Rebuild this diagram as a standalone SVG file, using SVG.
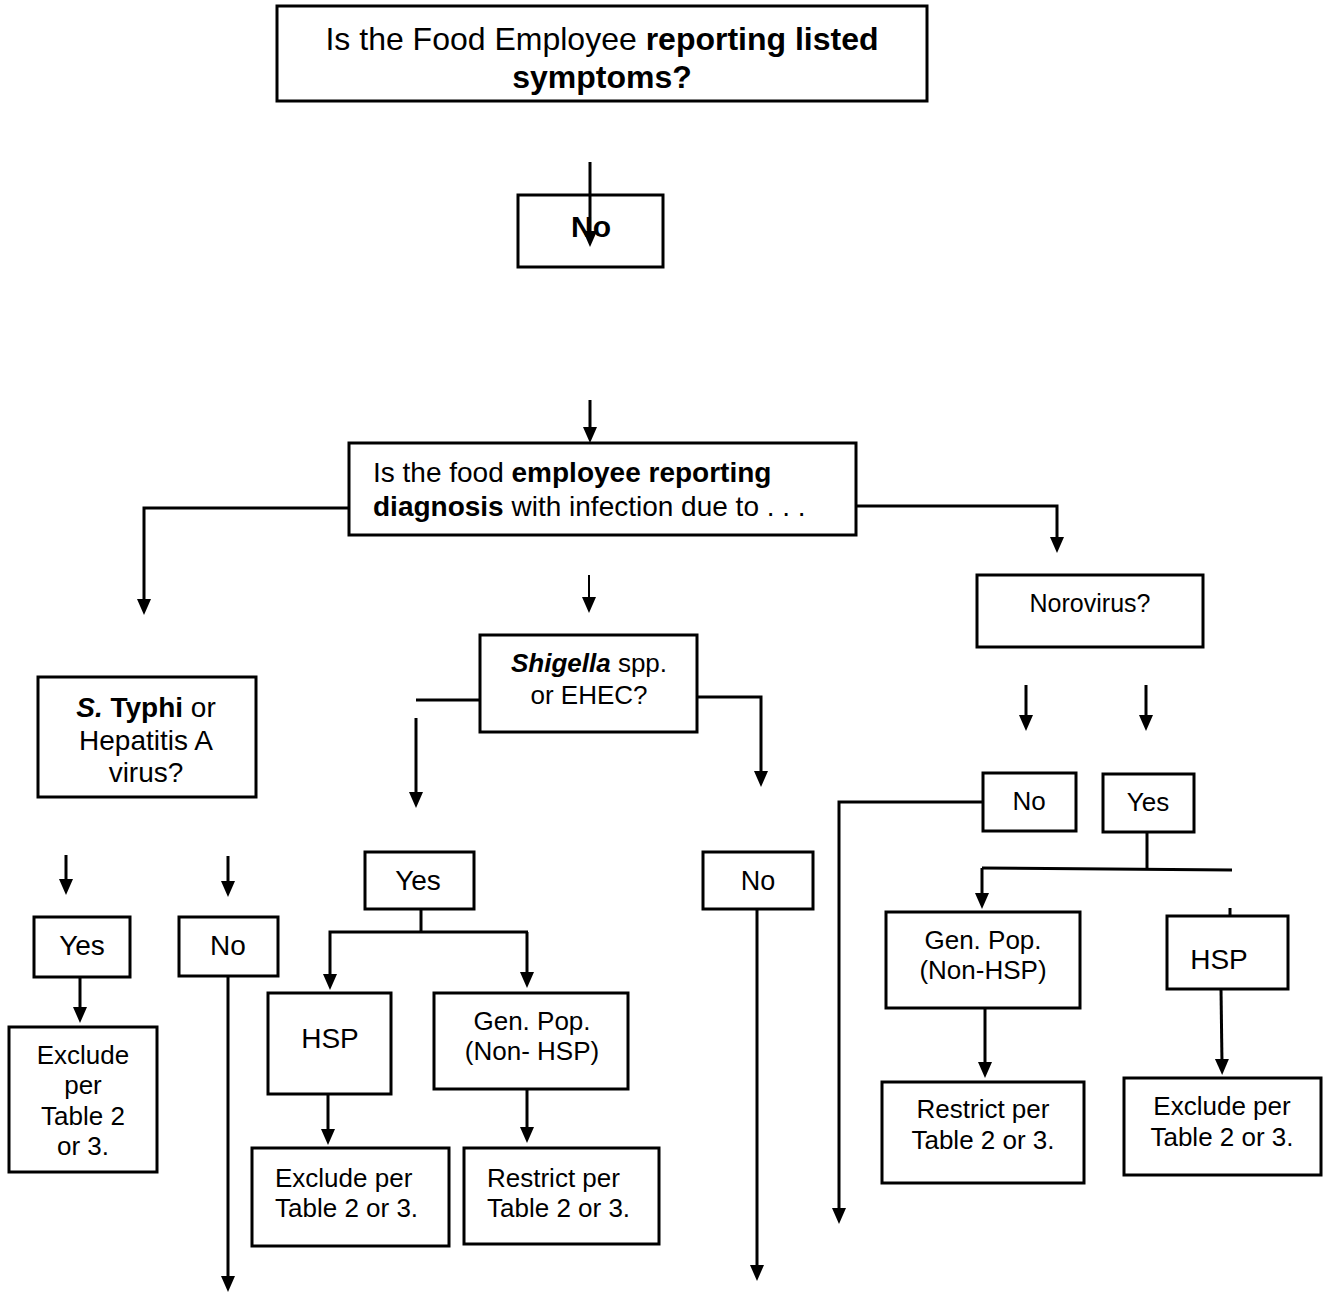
<svg xmlns="http://www.w3.org/2000/svg" width="1325" height="1295" viewBox="0 0 1325 1295">
<style>
.box{fill:#fff;stroke:#000;stroke-width:3}
.t{font-family:"Liberation Sans",Arial,sans-serif;fill:#000}
.c{text-anchor:middle}
.b{font-weight:bold}
.i{font-style:italic}
.ln{fill:none;stroke:#000;stroke-width:3}
.ar{fill:none;stroke:#000;stroke-width:3;marker-end:url(#ah)}
.ar2{fill:none;stroke:#000;stroke-width:2;marker-end:url(#ah)}
</style>
<defs>
<marker id="ah" markerUnits="userSpaceOnUse" markerWidth="16" markerHeight="16" viewBox="0 0 16 16" refX="4" refY="8" orient="auto">
<path d="M0,1 L16,8 L0,15 z" fill="#000"/>
</marker>
</defs>
<rect width="1325" height="1295" fill="#fff"/>

<g id="n-symptoms">
<rect class="box" x="277" y="6" width="650" height="95"/>
<text class="t c" x="602" y="50" font-size="32">Is the Food Employee <tspan class="b">reporting listed</tspan></text>
<text class="t c b" x="602" y="88" font-size="32">symptoms?</text>
</g>
<g id="n-no-top">
<rect class="box" x="518" y="195" width="145" height="72"/>
<text class="t c b" x="591" y="237" font-size="30">No</text>
</g>
<g id="n-diagnosis">
<rect class="box" x="349" y="443" width="507" height="92"/>
<text class="t" x="373" y="482" font-size="28">Is the food <tspan class="b">employee reporting</tspan></text>
<text class="t" x="373" y="516" font-size="28"><tspan class="b">diagnosis</tspan> with infection due to . . .</text>
</g>
<g id="n-typhi">
<rect class="box" x="38" y="677" width="218" height="120"/>
<text class="t c" x="146" y="717" font-size="28"><tspan class="b i">S.</tspan><tspan class="b"> Typhi</tspan> or</text>
<text class="t c" x="146" y="750" font-size="28">Hepatitis A</text>
<text class="t c" x="146" y="782" font-size="28">virus?</text>
</g>
<g id="n-shigella">
<rect class="box" x="480" y="635" width="217" height="97"/>
<text class="t c" x="589" y="672" font-size="26"><tspan class="b i">Shigella</tspan> spp.</text>
<text class="t c" x="589" y="704" font-size="26">or EHEC?</text>
</g>
<g id="n-norovirus">
<rect class="box" x="977" y="575" width="226" height="72"/>
<text class="t c" x="1090" y="612" font-size="25">Norovirus?</text>
</g>
<g id="n-typhi-yes">
<rect class="box" x="34" y="917" width="96" height="60"/>
<text class="t c" x="82" y="955" font-size="28">Yes</text>
</g>
<g id="n-typhi-no">
<rect class="box" x="179" y="917" width="99" height="59"/>
<text class="t c" x="228" y="955" font-size="28">No</text>
</g>
<g id="n-typhi-exclude">
<rect class="box" x="9" y="1027" width="148" height="145"/>
<text class="t c" x="83" y="1064" font-size="26">Exclude</text>
<text class="t c" x="83" y="1094" font-size="26">per</text>
<text class="t c" x="83" y="1125" font-size="26">Table 2</text>
<text class="t c" x="83" y="1155" font-size="26">or 3.</text>
</g>
<g id="n-shig-yes">
<rect class="box" x="365" y="852" width="109" height="57"/>
<text class="t c" x="418" y="890" font-size="28">Yes</text>
</g>
<g id="n-shig-no">
<rect class="box" x="703" y="852" width="110" height="57"/>
<text class="t c" x="758" y="890" font-size="27">No</text>
</g>
<g id="n-shig-hsp">
<rect class="box" x="268" y="993" width="123" height="101"/>
<text class="t c" x="330" y="1048" font-size="28">HSP</text>
</g>
<g id="n-shig-genpop">
<rect class="box" x="434" y="993" width="194" height="96"/>
<text class="t c" x="532" y="1030" font-size="26">Gen. Pop.</text>
<text class="t c" x="532" y="1060" font-size="26">(Non- HSP)</text>
</g>
<g id="n-shig-exclude">
<rect class="box" x="252" y="1148" width="197" height="98"/>
<text class="t" x="275" y="1187" font-size="26">Exclude per</text>
<text class="t" x="275" y="1217" font-size="26">Table 2 or 3.</text>
</g>
<g id="n-shig-restrict">
<rect class="box" x="464" y="1148" width="195" height="96"/>
<text class="t" x="487" y="1187" font-size="26">Restrict per</text>
<text class="t" x="487" y="1217" font-size="26">Table 2 or 3.</text>
</g>
<g id="n-noro-no">
<rect class="box" x="983" y="773" width="93" height="58"/>
<text class="t c" x="1029" y="810" font-size="26">No</text>
</g>
<g id="n-noro-yes">
<rect class="box" x="1103" y="774" width="91" height="58"/>
<text class="t c" x="1148" y="811" font-size="26">Yes</text>
</g>
<g id="n-noro-genpop">
<rect class="box" x="886" y="912" width="194" height="96"/>
<text class="t c" x="983" y="949" font-size="26">Gen. Pop.</text>
<text class="t c" x="983" y="979" font-size="26">(Non-HSP)</text>
</g>
<g id="n-noro-hsp">
<rect class="box" x="1167" y="916" width="121" height="73"/>
<text class="t c" x="1219" y="969" font-size="28">HSP</text>
</g>
<g id="n-noro-restrict">
<rect class="box" x="882" y="1082" width="202" height="101"/>
<text class="t c" x="983" y="1118" font-size="26">Restrict per</text>
<text class="t c" x="983" y="1149" font-size="26">Table 2 or 3.</text>
</g>
<g id="n-noro-exclude">
<rect class="box" x="1124" y="1078" width="197" height="97"/>
<text class="t c" x="1222" y="1115" font-size="26">Exclude per</text>
<text class="t c" x="1222" y="1146" font-size="26">Table 2 or 3.</text>
</g>

<g id="connectors">
<path class="ar" d="M590,162 V235"/>
<path class="ar" d="M590,400 V431"/>
<path class="ar" d="M349,508 H144 V603"/>
<path class="ar" d="M856,506 H1057 V541"/>
<path class="ar2" d="M589,575 V601"/>
<path class="ln" d="M416,700 H480"/>
<path class="ar" d="M416,718 V796"/>
<path class="ar" d="M697,697 H761 V775"/>
<path class="ar" d="M1026,685 V719"/>
<path class="ar" d="M1146,685 V719"/>
<path class="ar" d="M66,855 V883"/>
<path class="ar" d="M228,856 V885"/>
<path class="ar" d="M80,977 V1011"/>
<path class="ar" d="M228,976 V1280"/>
<path class="ln" d="M421,909 V932"/>
<path class="ar" d="M528,932 H330 V978"/>
<path class="ar" d="M527,932 V976"/>
<path class="ar" d="M328,1094 V1133"/>
<path class="ar" d="M527,1089 V1131"/>
<path class="ar" d="M757,909 V1269"/>
<path class="ar" d="M983,802 H839 V1212"/>
<path class="ln" d="M1147,832 V869"/>
<path class="ln" d="M982,868 L1232,870"/>
<path class="ar" d="M982,868 V897"/>
<path class="ln" d="M1230,908 V917"/>
<path class="ar" d="M985,1008 V1066"/>
<path class="ar" d="M1221,989 L1222,1063"/>
</g>
</svg>
